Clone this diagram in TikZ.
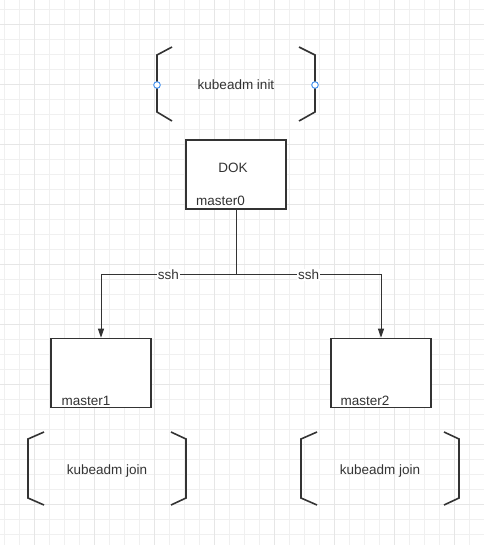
\documentclass[tikz,border=0pt]{standalone}
\usepackage{fontspec}
\setmainfont{Liberation Sans}
\usetikzlibrary{arrows.meta}
\definecolor{ink}{HTML}{333333}
\definecolor{gridminor}{HTML}{F0F0F0}
\definecolor{gridmajor}{HTML}{E6E6E6}
\definecolor{handle}{HTML}{3D8EF0}
\tikzset{
  txt/.style={text=ink,font=\fontsize{13.5bp}{16bp}\selectfont,inner sep=0pt},
  box/.style={draw=ink,line width=1.6bp,minimum width=100bp,minimum height=69bp,inner sep=0pt,fill=white},
  bracket/.style={draw=ink,line width=1.6bp,line join=miter},
  conn/.style={draw=ink,line width=0.9bp},
  arr/.style={-{Triangle[length=9bp,width=6bp]}},
  lbl/.style={txt,fill=white,inner xsep=1bp,inner ysep=1bp,yshift=-1bp},
  hnd/.style={draw=handle,fill=white,line width=0.9bp}
}
\begin{document}
\begin{tikzpicture}[x=1bp,y=-1bp]
\useasboundingbox (0,0) rectangle (484,545);
\fill[white] (0,0) rectangle (484,545);
% grid
\foreach \x in {4,19,...,484} {\draw[gridminor,line width=0.8bp] (\x,0) -- (\x,545);}
\foreach \y in {9,24,...,545} {\draw[gridminor,line width=0.8bp] (0,\y) -- (484,\y);}
\foreach \x in {34,94,...,484} {\draw[gridmajor,line width=0.9bp] (\x,0) -- (\x,545);}
\foreach \y in {24,84,...,545} {\draw[gridmajor,line width=0.9bp] (0,\y) -- (484,\y);}

% kubeadm init
\draw[bracket] (172,47) -- (157,55) -- (157,112) -- (172,121);
\draw[bracket] (299,47) -- (315,55) -- (315,112) -- (299,121);
\node[txt,anchor=base] (init) at (236,89.5) {kubeadm init};
\draw[hnd] (157,85) circle (3.3bp);
\draw[hnd] (315,85) circle (3.3bp);

% boxes
\node[box] (dok) at (236,174.5) {};
\node[txt] (dokt) at (233,168) {DOK};
\node[txt,anchor=base west] (m0) at (196,206) {master0};

\node[box] (m1box) at (101,373) {};
\node[txt,anchor=base west] (m1) at (61.5,405) {master1};
\node[box] (m2box) at (381,373) {};
\node[txt,anchor=base west] (m2) at (340.5,405) {master2};

% connectors
\coordinate (j) at (236,274);
\draw[conn] (dok.south) -- (j);
\draw[conn,arr] (j) -| node[lbl,pos=0.25] {ssh} (m1box.north);
\draw[conn,arr] (j) -| node[lbl,pos=0.25] {ssh} (m2box.north);

% kubeadm join left
\draw[bracket] (44,432) -- (28,439) -- (28,498) -- (44,505);
\draw[bracket] (171,432) -- (186,439) -- (186,498) -- (171,505);
\node[txt,anchor=base] (join1) at (107,474) {kubeadm join};

% kubeadm join right
\draw[bracket] (317,432) -- (301,439) -- (301,498) -- (317,505);
\draw[bracket] (444,432) -- (459,439) -- (459,498) -- (444,505);
\node[txt,anchor=base] (join2) at (380,474) {kubeadm join};
\end{tikzpicture}
\end{document}
